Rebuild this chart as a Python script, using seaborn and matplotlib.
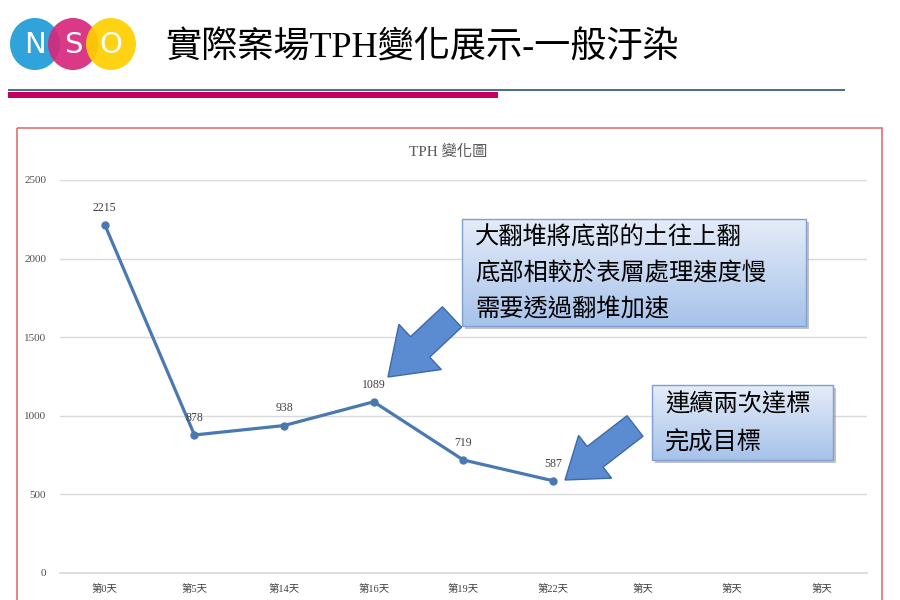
import numpy as np
import pandas as pd
import seaborn as sns
import matplotlib
matplotlib.use("Agg")
from matplotlib import pyplot as plt
from matplotlib import patches

# data ~~~~~~~~~~~~~~~~~~~~~~~~~~~~~~~~~~~~~~~~~~~~~~~~~~~~~~~~~~~~~~~~
days = ['第0天', '第5天', '第14天', '第16天', '第19天', '第22天', '第天', '第天', '第天']
tph = [2215, 878, 938, 1089, 719, 587]
y_ticks = [0, 500, 1000, 1500, 2000, 2500]

slide_title = '實際案場TPH變化展示-一般汙染'
chart_title = 'TPH 變化圖'
note1 = ['大翻堆將底部的土往上翻', '底部相較於表層處理速度慢', '需要透過翻堆加速']
note2 = ['連續兩次達標', '完成目標']

sns.set_theme(style="white")
plt.rcParams['font.family'] = ['Liberation Serif', 'Noto Sans CJK TC', 'DejaVu Sans']
cjk = ['Noto Sans CJK TC', 'DejaVu Sans']
mixed = ['Liberation Serif', 'Noto Sans CJK TC']

fig = plt.figure(figsize=(9, 6), dpi=100)
fig.patch.set_facecolor('white')

# main chart ~~~~~~~~~~~~~~~~~~~~~~~~~~~~~~~~~~~~~~~~~~~~~~~~~~~~~~~~~~~
ax = fig.add_axes([60 / 900, 1 - 573 / 600, 806.6 / 900, 393 / 600])
df = pd.DataFrame({'x': range(len(tph)), 'tph': tph})
sns.lineplot(data=df, x='x', y='tph', ax=ax, color='#4a78b0', linewidth=2.3,
             marker='o', markersize=6, markeredgewidth=0, zorder=3)
for i, v in enumerate(tph):
    ax.annotate(str(v), (i, v), xytext=(0, 8), textcoords='offset points',
                ha='center', va='bottom', fontsize=8.5, color='#404040',
                family=mixed)

ax.set_xlim(-0.5, len(days) - 0.5)
ax.set_ylim(0, 2500)
ax.set_xticks(range(len(days)))
ax.set_xticklabels(days, family=mixed, fontsize=7.5, color='#404040')
ax.set_yticks(y_ticks)
ax.set_yticklabels([str(t) for t in y_ticks], fontsize=8, color='#505050')
ax.tick_params(axis='both', length=0, pad=8)
ax.tick_params(axis='y', pad=10)
ax.grid(axis='y', color='#d9d9d9', linewidth=1)
ax.set_axisbelow(True)
for s in ['top', 'right', 'left']:
    ax.spines[s].set_visible(False)
ax.spines['bottom'].set_color('#d9d9d9')
ax.set_xlabel('')
ax.set_ylabel('')
ax.patch.set_alpha(0)

# overlay in pixel coordinates for the slide decorations ~~~~~~~~~~~~~~~
ov = fig.add_axes([0, 0, 1, 1], zorder=5)
ov.set_xlim(0, 900)
ov.set_ylim(600, 0)
ov.axis('off')
ov.patch.set_alpha(0)

# chart frame
ov.add_patch(patches.Rectangle((17, 128), 865, 480, fill=False,
                               edgecolor='#e07070', linewidth=1.2))
ov.text(448, 152, chart_title, ha='center', va='center', fontsize=11,
        color='#595959', family=mixed)

# logo
for cx, col in [(35, '#1e9bd7'), (73, '#d6287c'), (111, '#ffd000')]:
    ov.add_patch(patches.Ellipse((cx, 44), 50, 52, facecolor=col,
                                 edgecolor='none', alpha=0.92))
for cx, letter in [(35, 'N'), (73, 'S'), (111, 'O')]:
    ov.text(cx, 45, letter, ha='center', va='center', color='white',
            fontsize=21, family=['DejaVu Sans'])

ov.text(165, 48, slide_title, ha='left', va='center', fontsize=26,
        color='black', family=mixed)

# header bars
ov.add_patch(patches.Rectangle((8, 89), 837, 2, facecolor='#4b6e9e', edgecolor='none'))
ov.add_patch(patches.Rectangle((8, 91.5), 490, 6.5, facecolor='#c2005f', edgecolor='none'))


def note_box(x0, y0, w, h, lines, fs):
    ov.add_patch(patches.Rectangle((x0 + 3, y0 + 3), w, h, facecolor='#9a9a9a',
                                   edgecolor='none', alpha=0.6))
    grad = np.linspace(0, 1, 64).reshape(-1, 1)
    img = ov.imshow(grad, cmap=matplotlib.colors.LinearSegmentedColormap.from_list(
        'b', ['#e4ecf8', '#a7c2ea']), extent=(x0, x0 + w, y0 + h, y0),
        aspect='auto', zorder=2)
    rect = patches.Rectangle((x0, y0), w, h, facecolor='none',
                             edgecolor='#7f9fcf', linewidth=1, zorder=3)
    ov.add_patch(rect)
    img.set_clip_path(rect)
    step = h / len(lines)
    for k, ln in enumerate(lines):
        ov.text(x0 + 13, y0 + step * (k + 0.5) + 1, ln, ha='left', va='center',
                fontsize=fs, family=cjk, color='black', zorder=4)


def block_arrow(tail, tip, shaft, head_w, head_l):
    dx, dy = tip[0] - tail[0], tip[1] - tail[1]
    ov.add_patch(patches.FancyArrow(tail[0], tail[1], dx, dy, width=shaft,
                                    head_width=head_w, head_length=head_l,
                                    length_includes_head=True,
                                    facecolor='#5b8bd0', edgecolor='#3d6aa8',
                                    linewidth=1, zorder=4))


note_box(462, 219, 344, 107, note1, 17.5)
note_box(652, 385, 181, 75, note2, 17.5)
block_arrow((452, 317), (388, 377), 28, 62, 44)
block_arrow((635, 426), (565, 480), 26, 54, 38)

plt.savefig('out.png', dpi=100)
